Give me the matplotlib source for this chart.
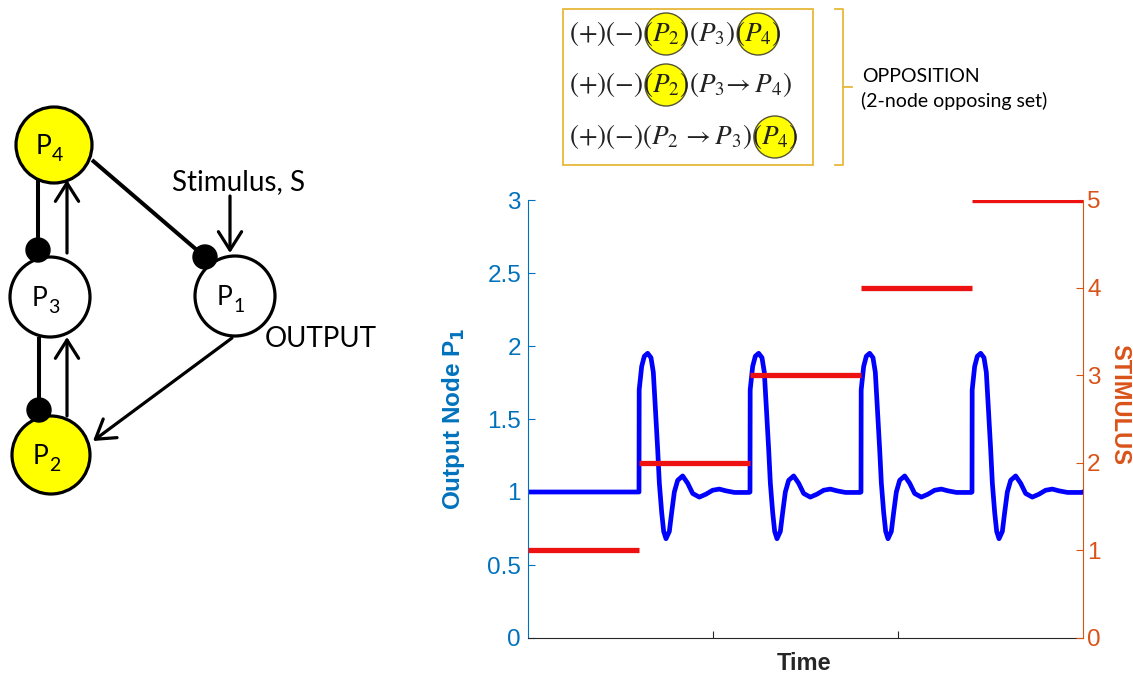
import numpy as np
import matplotlib
matplotlib.use('Agg')
import matplotlib.pyplot as plt
from matplotlib.patches import Circle, Rectangle

# stimulus steps (time edges and level held in each interval)
stim_edges = [0, 30, 60, 90, 120, 150]
stim_levels = [1, 2, 3, 4, 5]

# output P1 response after each step increase
step_times = [30, 60, 90, 120]
pulse_dt = [0.0, 0.05, 0.72, 1.44, 2.34, 3.24, 3.87, 4.41, 5.05, 5.5, 6.13, 6.67,
            7.3, 8.2, 8.83, 9.55, 10.45, 11.8, 13.15, 14.5, 16.3, 18.1, 19.9,
            21.7, 23.5, 25.8, 29.8]
pulse_val = [1.0, 1.7, 1.86, 1.93, 1.95, 1.92, 1.82, 1.58, 1.29, 1.06, 0.86, 0.73,
             0.68, 0.73, 0.86, 1.0, 1.08, 1.11, 1.06, 0.99, 0.965, 0.985, 1.012,
             1.02, 1.008, 0.997, 0.997]
baseline = 1.0

left_ticks = [0, 0.5, 1, 1.5, 2, 2.5, 3]
left_ticklabels = ['0', '0.5', '1', '1.5', '2', '2.5', '3']
right_ticks = [0, 1, 2, 3, 4, 5]

t = [0.0]
y = [baseline]
for ts in step_times:
    t.append(ts)
    y.append(baseline)
    for d, v in zip(pulse_dt, pulse_val):
        t.append(ts + d)
        y.append(v)
t.append(stim_edges[-1])
y.append(baseline)

BLUE_AX = '#0072BD'
ORANGE_AX = '#D95319'
GOLD = '#E8B83A'
sans = ['Liberation Sans', 'DejaVu Sans']
cal = ['Lato', 'DejaVu Sans']

fig = plt.figure(figsize=(11.33, 6.75), dpi=100)

# overlay in pixel coordinates for the network diagram and annotation box
ov = fig.add_axes([0, 0, 1, 1], zorder=0)
ov.set_xlim(0, 1133)
ov.set_ylim(675, 0)
ov.axis('off')

# ---- network diagram ----
nodes = {'P4': (54, 145, 38, '#FFFF00', '4'),
         'P3': (50, 297, 40, 'white', '3'),
         'P1': (235, 296, 40, 'white', '1'),
         'P2': (51, 455, 39, '#FFFF00', '2')}
for key, (cx, cy, r, fc, sub) in nodes.items():
    ov.add_patch(Circle((cx, cy), r, facecolor=fc, edgecolor='black', lw=2.3, zorder=2))
    ov.text(cx - 3, cy + 9, 'P', ha='right', va='baseline', fontsize=19,
            family=cal, zorder=4)
    ov.text(cx - 2, cy + 16, sub, ha='left', va='baseline', fontsize=14,
            family=cal, zorder=4)

# inhibitory links (ball ends)
for (x1, y1), (x2, y2) in [((92, 160), (205, 257)),
                           ((38, 180), (38, 250)),
                           ((39, 337), (39, 410))]:
    ov.plot([x1, x2], [y1, y2], color='black', lw=2.9, zorder=1, solid_capstyle='butt')
    ov.add_patch(Circle((x2, y2), 12, color='black', zorder=3))

# activating links (arrows)
arr = dict(arrowstyle='->,head_length=0.6,head_width=0.38', lw=2.3, color='black',
           shrinkA=0, shrinkB=0, mutation_scale=22)
for (x1, y1), (x2, y2) in [((67, 253), (67, 180)),
                           ((67, 416), (67, 337)),
                           ((230, 196), (230, 253)),
                           ((232, 338), (93, 441))]:
    ov.annotate('', xy=(x2, y2), xytext=(x1, y1), arrowprops=arr, zorder=1)

ov.text(172, 190, 'Stimulus, S', fontsize=20, family=cal, va='baseline')
ov.text(265, 347, 'OUTPUT', fontsize=20, family=cal, va='baseline')

# ---- annotation box with opposing sets ----
ov.add_patch(Rectangle((563, 9), 250, 156, fill=False, edgecolor=GOLD, lw=1.3, zorder=1))
ov.plot([835, 843, 843, 835], [9, 9, 165, 165], color=GOLD, lw=1.3)
ov.plot([843, 852], [87, 87], color=GOLD, lw=1.3)
ov.text(862, 82, 'OPPOSITION', fontsize=14, family=cal, va='baseline')
ov.text(861, 107, '(2-node opposing set)', fontsize=14, family=cal, va='baseline')

lines = [([r'$(+)(-)$', r'$(P_2)$', r'$(P_3)$', r'$(P_4)$'], [0, 1, 0, 1], 41),
         ([r'$(+)(-)$', r'$(P_2)$', r'$(P_3\!\rightarrow P_4)$'], [0, 1, 0], 92),
         ([r'$(+)(-)(P_2\,\rightarrow P_3)\;$', r'$(P_4)$'], [0, 1], 144)]
fig.canvas.draw()
renderer = fig.canvas.get_renderer()
for pieces, hl, base in lines:
    x = 569
    for s, h in zip(pieces, hl):
        tx = ov.text(x, base, s, fontsize=19.5, math_fontfamily='stix', va='baseline',
                     ha='left', zorder=3, color='#222222')
        w = tx.get_window_extent(renderer).width
        if h:
            ov.add_patch(Circle((x + w / 2, base - 7), 21, facecolor='#FFFF00',
                                edgecolor='#555533', lw=1.0, zorder=2))
        x += w

# ---- time course plot ----
ax = fig.add_axes([528 / 1133, 1 - 638 / 675, 555 / 1133, 438 / 675], zorder=1)
ax.plot(t, y, color='#0000FF', lw=3.4, zorder=2)
ax.set_xlim(stim_edges[0], stim_edges[-1])
ax.set_ylim(0, 3)
ax.set_yticks(left_ticks)
ax.set_yticklabels(left_ticklabels, family=sans)
ax.set_xticks([50, 100])
ax.tick_params(axis='x', direction='in', length=5, color='#262626', labelbottom=False)
ax.tick_params(axis='y', direction='in', length=5, colors=BLUE_AX, labelsize=17.5, pad=5)
ax.spines['top'].set_visible(False)
ax.spines['right'].set_visible(False)
ax.spines['left'].set_color(BLUE_AX)
ax.spines['bottom'].set_color('#262626')
for s in ax.spines.values():
    s.set_linewidth(0.8)
ax.set_ylabel('Output Node P$_\\mathbf{1}$', color=BLUE_AX, fontsize=17.5,
              fontweight='bold', family=sans, math_fontfamily='dejavusans', va='center')
ax.yaxis.set_label_coords(-0.135, 0.5)
ax.set_xlabel('Time', color='#262626', fontsize=17, fontweight='bold', family=sans,
              va='center')
ax.xaxis.set_label_coords(0.497, -0.059)

ax2 = ax.twinx()
for i, lev in enumerate(stim_levels):
    ax2.plot([stim_edges[i], stim_edges[i + 1]], [lev, lev], color='#EE1111', lw=3.8,
             solid_capstyle='butt')
ax2.set_ylim(0, 5)
ax2.set_yticks(right_ticks)
ax2.set_yticklabels([str(v) for v in right_ticks], family=sans)
ax2.tick_params(axis='y', direction='in', length=5, colors=ORANGE_AX, labelsize=17.5, pad=3)
for k in ['top', 'left', 'bottom']:
    ax2.spines[k].set_visible(False)
ax2.spines['right'].set_color(ORANGE_AX)
ax2.spines['right'].set_linewidth(0.8)
ax2.set_ylabel('STIMULUS', color=ORANGE_AX, fontsize=17, fontweight='bold',
               family=sans, rotation=-90, va='center', ha='center')
ax2.yaxis.set_label_coords(1.066, 0.534)

fig.savefig('out.png', dpi=100)
